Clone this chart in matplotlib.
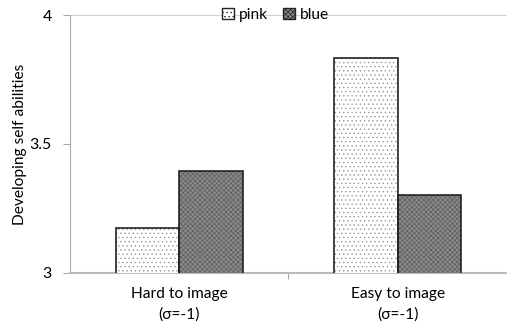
import numpy as np
import matplotlib.pyplot as plt

categories = ['Hard to image\n(σ=-1)', 'Easy to image\n(σ=-1)']
pink = [3.174, 3.833]
blue = [3.395, 3.302]
series_names = ['pink', 'blue']

plt.rcParams['font.family'] = ['Lato', 'DejaVu Sans']
plt.rcParams['hatch.linewidth'] = 0.5

fig = plt.figure(figsize=(5.07, 3.28), dpi=100)
ax = fig.add_axes([0.138, 0.168, 0.862, 0.786])

x = np.arange(len(categories))
w = 0.29
# fill + texture first, outline on top
ax.bar(x - w / 2, pink, w, color='white', edgecolor='#999999',
       hatch='....', linewidth=0, zorder=3)
ax.bar(x + w / 2, blue, w, color='#8a8a8a', edgecolor='#5e5e5e',
       hatch='xxxxxxx', linewidth=0, zorder=3)
ax.bar(x - w / 2, pink, w, fill=False, edgecolor='#222222', linewidth=1.2, zorder=4)
ax.bar(x + w / 2, blue, w, fill=False, edgecolor='#222222', linewidth=1.2, zorder=4)

# legend handles
h1 = plt.Rectangle((0, 0), 1, 1, facecolor='white', edgecolor='#222222',
                   hatch='....', linewidth=1.0)
h2 = plt.Rectangle((0, 0), 1, 1, facecolor='#8a8a8a', edgecolor='#222222',
                   hatch='xxxxxxx', linewidth=1.0)

ax.set_ylim(3, 4)
ax.set_xlim(-0.5, 1.5)
ax.set_yticks([3, 3.5, 4])
ax.set_yticklabels(['3', '3.5', '4'], fontsize=11.5)
ax.set_xticks([0.5], minor=False)
ax.set_xticks(x, minor=True)
ax.set_xticklabels([''])
ax.set_xticklabels(categories, minor=True, fontsize=11.2, linespacing=1.55)
ax.tick_params(axis='x', which='minor', length=0, pad=10)
ax.tick_params(axis='x', which='major', length=4, color='#aaaaaa', direction='out')
ax.tick_params(axis='y', length=5, color='#aaaaaa', direction='out', pad=8)
ax.set_ylabel('Developing self abilities', fontsize=11.2, labelpad=2)

ax.axhline(4, color='#c8c8c8', linewidth=1.2, zorder=1)
for s in ['top', 'right']:
    ax.spines[s].set_visible(False)
ax.spines['left'].set_color('#aaaaaa')
ax.spines['bottom'].set_color('#bbbbbb')
ax.spines['bottom'].set_linewidth(1.5)

ax.legend([h1, h2], series_names, loc='center', bbox_to_anchor=(0.47, 1.0),
          ncol=2, frameon=False, fontsize=11.2, handlelength=0.75,
          handleheight=0.75, handletextpad=0.3, columnspacing=1.0,
          borderaxespad=0)

fig.savefig('out.png', dpi=100)
